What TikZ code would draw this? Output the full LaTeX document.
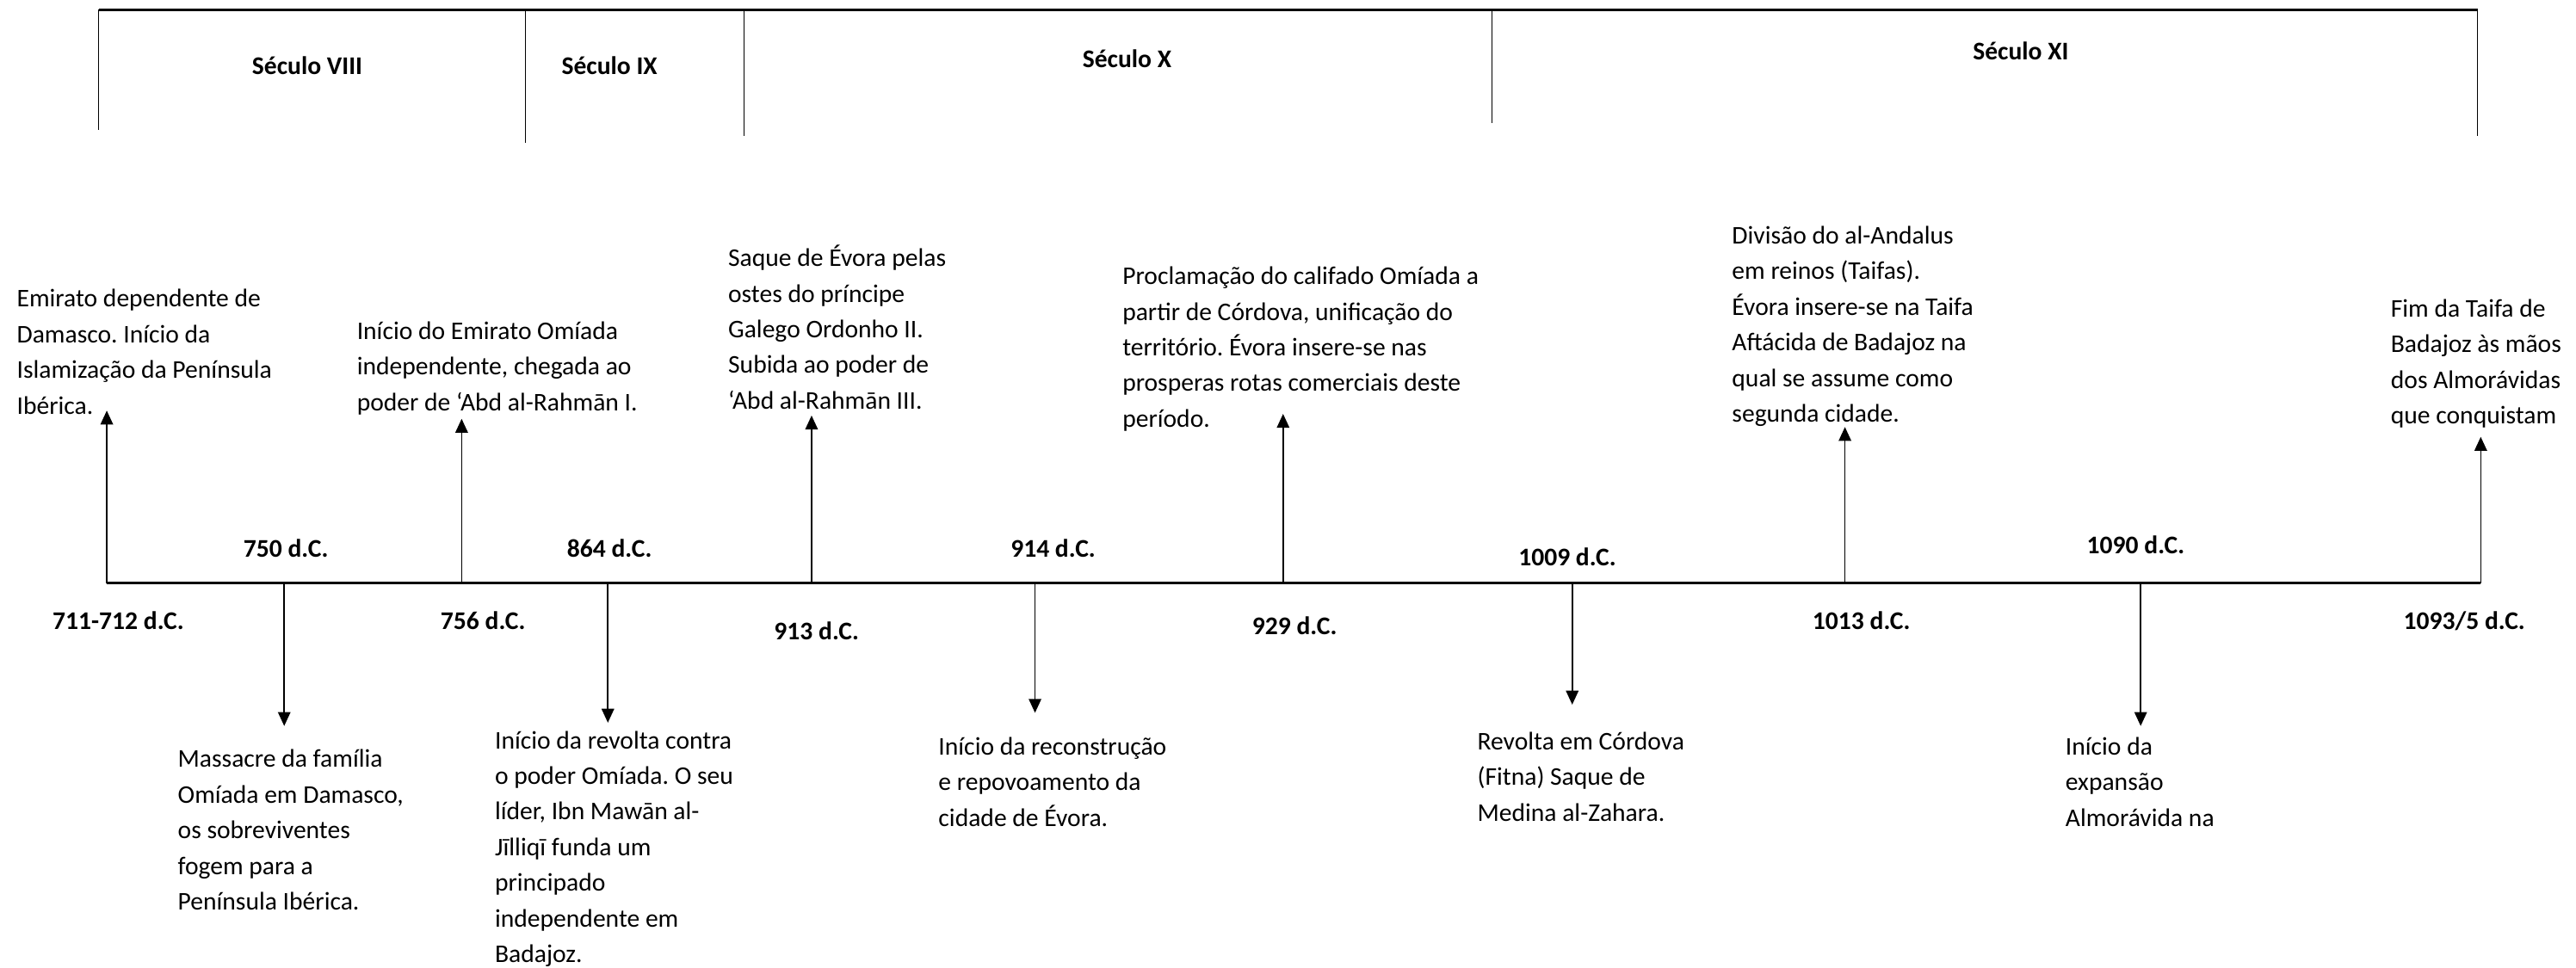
\documentclass[tikz,border=0pt]{standalone}
\usepackage{fontspec}
\setmainfont{Carlito}
\usetikzlibrary{arrows.meta}
\frenchspacing

\begin{document}
\begin{tikzpicture}[x=0.7097pt,y=-0.7097pt,
    evento/.style={anchor=base west,align=left,inner sep=0pt,font=\fontsize{11}{15.4}\selectfont},
    data/.style={inner sep=0pt,font=\bfseries\fontsize{11}{13}\selectfont},
    seculo/.style={inner sep=0pt,font=\bfseries\fontsize{11}{13}\selectfont},
    eixo/.style={line width=0.9pt},
    chaveta/.style={line width=0.5pt},
    seta/.style={line width=0.6pt,-{Triangle[length=6pt,width=5.4pt]}}]
    \useasboundingbox (0,0) rectangle (1568,589);

    % seculos
    \coordinate (S0) at (60,6);
    \coordinate (S1) at (320,6);
    \coordinate (S2) at (453,6);
    \coordinate (S3) at (908,6);
    \coordinate (S4) at (1508,6);
    \draw[chaveta,line width=0.9pt] (S0) -- (S4);
    \draw[chaveta] (S0) -- (60,79);
    \draw[chaveta] (S1) -- (320,87);
    \draw[chaveta] (S2) -- (453,83);
    \draw[chaveta] (S3) -- (908,75);
    \draw[chaveta] (S4) -- (1508,83);
    \node[seculo] (sVIII) at (187,40) {Século VIII};
    \node[seculo] (sIX) at (371,40) {Século IX};
    \node[seculo] (sX) at (686,36) {Século X};
    \node[seculo] (sXI) at (1230,31) {Século XI};

    % eixo
    \coordinate (A711) at (65,355);
    \coordinate (A750) at (173,355);
    \coordinate (A756) at (281,355);
    \coordinate (A864) at (370,355);
    \coordinate (A913) at (494,355);
    \coordinate (A914) at (630,355);
    \coordinate (A929) at (781,355);
    \coordinate (A1009) at (957,355);
    \coordinate (A1013) at (1123,355);
    \coordinate (A1090) at (1303,355);
    \coordinate (A1093) at (1510,355);
    \draw[eixo] (A711) -- (A1093);

    % pontas das setas
    \coordinate (T711) at (65,250);
    \coordinate (T756) at (281,255);
    \coordinate (T913) at (494,253);
    \coordinate (T929) at (781,252);
    \coordinate (T1013) at (1123,260);
    \coordinate (T1093) at (1510,266);
    \coordinate (T750) at (173,442);
    \coordinate (T864) at (370,440);
    \coordinate (T914) at (630,434);
    \coordinate (T1009) at (957,429);
    \coordinate (T1090) at (1303,442);
    \draw[seta] (A711) -- (T711);
    \draw[seta] (A756) -- (T756);
    \draw[seta] (A913) -- (T913);
    \draw[seta] (A929) -- (T929);
    \draw[seta] (A1013) -- (T1013);
    \draw[seta] (A1093) -- (T1093);
    \draw[seta] (A750) -- (T750);
    \draw[seta] (A864) -- (T864);
    \draw[seta] (A914) -- (T914);
    \draw[seta] (A1009) -- (T1009);
    \draw[seta] (A1090) -- (T1090);

    % datas
    \node[data] (d711) at (72,378) {711-712 d.C.};
    \node[data] (d750) at (174,334) {750 d.C.};
    \node[data] (d756) at (294,378) {756 d.C.};
    \node[data] (d864) at (371,334) {864 d.C.};
    \node[data] (d913) at (497,384) {913 d.C.};
    \node[data] (d914) at (641,334) {914 d.C.};
    \node[data] (d929) at (788,381) {929 d.C.};
    \node[data] (d1009) at (954,339) {1009 d.C.};
    \node[data] (d1013) at (1133,378) {1013 d.C.};
    \node[data] (d1090) at (1300,332) {1090 d.C.};
    \node[data] (d1093) at (1500,378) {1093/5 d.C.};

    % acontecimentos (ancorados na ultima linha)
    \node[evento] (e711) at (10,252) {Emirato dependente de\\Damasco. Início da\\Islamização da Península\\Ibérica.};
    \node[evento] (e756) at (217,250) {Início do Emirato Omíada\\independente, chegada ao\\poder de ‘Abd al-Rahmān I.};
    \node[evento] (e913) at (443,249) {Saque de Évora pelas\\ostes do príncipe\\Galego Ordonho II.\\Subida ao poder de\\‘Abd al-Rahmān III.};
    \node[evento] (e929) at (683,260) {Proclamação do califado Omíada a\\partir de Córdova, unificação do\\território. Évora insere-se nas\\prosperas rotas comerciais deste\\período.};
    \node[evento] (e1013) at (1054,257) {Divisão do al-Andalus\\em reinos (Taifas).\\Évora insere-se na Taifa\\Aftácida de Badajoz na\\qual se assume como\\segunda cidade.};
    \node[evento] (e1093) at (1455,258) {Fim da Taifa de\\Badajoz às mãos\\dos Almorávidas\\que conquistam};
    \node[evento] (e750) at (108,554) {Massacre da família\\Omíada em Damasco,\\os sobreviventes\\fogem para a\\Península Ibérica.};
    \node[evento] (e864) at (301,586) {Início da revolta contra\\o poder Omíada. O seu\\líder, Ibn Mawān al-\\Jīlliqī funda um\\principado\\independente em\\Badajoz.};
    \node[evento] (e914) at (571,503) {Início da reconstrução\\e repovoamento da\\cidade de Évora.};
    \node[evento] (e1009) at (899,500) {Revolta em Córdova\\(Fitna) Saque de\\Medina al-Zahara.};
    \node[evento] (e1090) at (1257,503) {Início da\\expansão\\Almorávida na};

\end{tikzpicture}
\end{document}
